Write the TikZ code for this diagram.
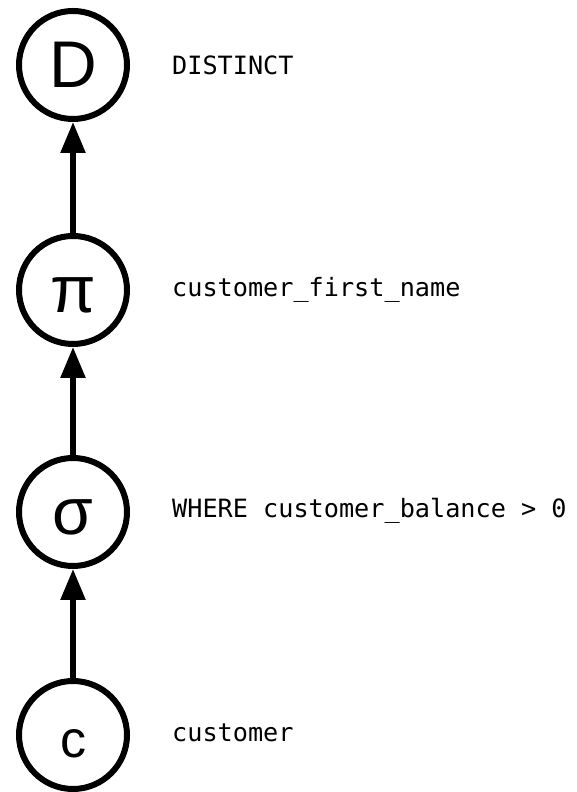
\documentclass[tikz,border=0pt]{standalone}
\usepackage{fontspec}
\setmainfont{Liberation Sans}
\newfontfamily\codefont{DejaVu Sans Mono}
\usetikzlibrary{arrows.meta}

\tikzset{
  opnode/.style={circle, draw, line width=6pt, minimum size=108pt, inner sep=0pt,
                 text height=46pt, text depth=0pt, font=\fontsize{66}{66}\selectfont},
  smallop/.style={opnode, font=\fontsize{52}{52}\selectfont},
  desc/.style={anchor=base west, inner sep=0pt, font=\codefont\fontsize{25.2}{25.2}\selectfont},
  flow/.style={line width=5.5pt, -{Triangle[length=31pt,width=24pt]}}
}

\begin{document}
\begin{tikzpicture}[x=1pt,y=1pt]
  \useasboundingbox (0,0) rectangle (577,792);

  % operator nodes, bottom to top
  \node[smallop] (rel)  at (73,57)  {c};
  \node[opnode]  (sel)  at (73,280) {σ};
  \node[opnode]  (proj) at (73,502) {π};
  \node[opnode]  (dist) at (73,727) {D};

  % data flow upward through the plan
  \draw[flow] (rel.north)  -- (sel.south);
  \draw[flow] (sel.north)  -- (proj.south);
  \draw[flow] (proj.north) -- (dist.south);

  % operator descriptions
  \node[desc] (tdist) at (172,717) {DISTINCT};
  \node[desc] (tproj) at (172,495) {customer\_first\_name};
  \node[desc] (tsel)  at (172,274) {WHERE customer\_balance > 0};
  \node[desc] (trel)  at (172,50)  {customer};
\end{tikzpicture}
\end{document}
